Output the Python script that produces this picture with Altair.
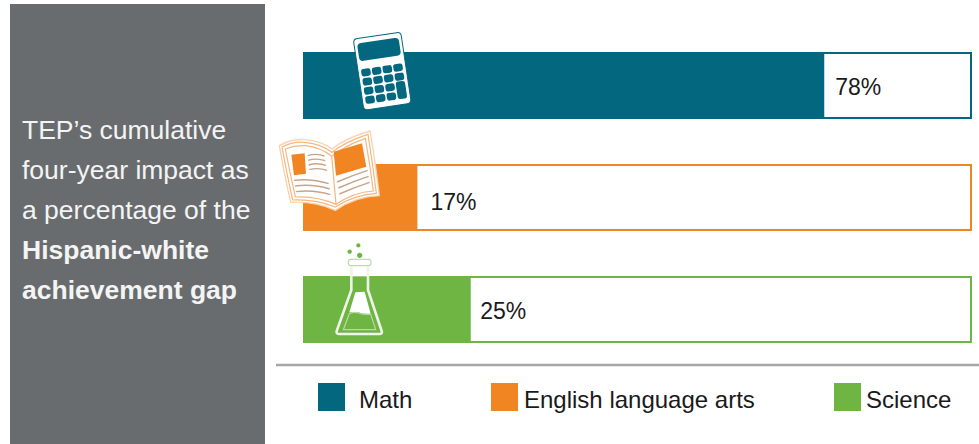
import altair as alt
import pandas as pd

subjects = ["Math", "English language arts", "Science"]
impact = [78, 17, 25]
colors = ["#02677f", "#f08522", "#6fb543"]
panel_plain = ["TEP’s cumulative", "four-year impact as", "a percentage of the"]
panel_bold = ["Hispanic-white", "achievement gap"]

FONT = "Liberation Sans"
PANEL = "#696c6e"

df = pd.DataFrame({"subject": subjects, "impact": impact, "full": [100] * 3})
df["label"] = df["impact"].astype(str) + "%"
one = pd.DataFrame({"k": [0]})

x_scale = alt.Scale(domain=[0, 100], range=[304, 971])
y_scale = alt.Scale(type="band", domain=subjects, range=[53, 342], paddingInner=47 / 112, paddingOuter=0)
c_scale = alt.Scale(domain=subjects, range=colors)
x_enc = alt.X("impact:Q", scale=x_scale, axis=None)
y_enc = alt.Y("subject:N", scale=y_scale, axis=None, sort=subjects)


def glyph(path, x, y, size=4 / 9, angle=0, fill="transparent", stroke="transparent", sw=0, opacity=1):
    """A custom SVG symbol; with size 4 one path unit is one pixel, with 4/9 a third of one."""
    return (
        alt.Chart(one)
        .mark_point(shape=path, size=size, angle=angle, filled=True, fill=fill, stroke=stroke,
                    strokeWidth=sw, opacity=opacity)
        .encode(x=alt.value(x), y=alt.value(y))
    )


def round_rect(x0, y0, x1, y1, r):
    return (f"M{x0 + r} {y0}L{x1 - r} {y0}Q{x1} {y0} {x1} {y0 + r}L{x1} {y1 - r}Q{x1} {y1} {x1 - r} {y1}"
            f"L{x0 + r} {y1}Q{x0} {y1} {x0} {y1 - r}L{x0} {y0 + r}Q{x0} {y0} {x0 + r} {y0}Z")


def circle(cx, cy, r):
    return f"M{cx - r} {cy}A{r} {r} 0 1 0 {cx + r} {cy}A{r} {r} 0 1 0 {cx - r} {cy}Z"


# Grey side panel and its caption
panel = (
    alt.Chart(one)
    .mark_rect(color=PANEL)
    .encode(x=alt.value(10), x2=alt.value(265), y=alt.value(4), y2=alt.value(444))
)
caption = []
for i, line in enumerate(panel_plain + panel_bold):
    caption.append(
        alt.Chart(pd.DataFrame({"t": [line]}))
        .mark_text(font=FONT, fontSize=26.5, color="#f4f4f4", align="left", baseline="alphabetic",
                   fontWeight="bold" if line in panel_bold else "normal")
        .encode(x=alt.value(22), y=alt.value(139 + 40 * i), text="t:N")
    )

# Outlined tracks with the filled share on top
tracks = (
    alt.Chart(df)
    .mark_bar(fill="white", strokeWidth=2)
    .encode(x=alt.X("full:Q", scale=x_scale, axis=None), y=y_enc,
            stroke=alt.Stroke("subject:N", scale=c_scale, legend=None))
)
fills = (
    alt.Chart(df)
    .mark_bar()
    .encode(x=x_enc, y=y_enc, color=alt.Color("subject:N", scale=c_scale, legend=None))
)

# Value labels sit just past the end of each filled share
label_nudge = {"Math": (11, 2.5), "English language arts": (13, 5.5), "Science": (9.5, 2.5)}
value_labels = [
    alt.Chart(df[df.subject == s])
    .mark_text(font=FONT, fontSize=23, color="#1a1a1a", align="left", baseline="middle", dx=dx, dy=dy)
    .encode(x=x_enc, y=y_enc, text="label:N")
    for s, (dx, dy) in label_nudge.items()
]

# Calculator, drawn upright around its centre and tilted
TEAL = colors[0]
calc = [round_rect(-24, -36, 24, 36, 4)]
calc_keys = [round_rect(-21, -31, 21, -13, 4)]
key_x = [-21, -10.2, 0.6, 11.4]
key_y = [-5, 4.2, 13.4, 22.6]
for row, yy in enumerate(key_y):
    for col, xx in enumerate(key_x):
        if col == 3 and row >= 2:
            continue
        calc_keys.append(round_rect(xx, yy, xx + 9.4, yy + 7.6, 2.4))
calc_keys.append(round_rect(11.4, 12.6, 20.8, 30.2, 2.6))
calculator = [
    glyph(calc[0], 382.3, 71.2, size=4, angle=351.5, fill="white", stroke=TEAL, sw=1),
    glyph("".join(calc_keys), 382.3, 71.2, size=4, angle=351.5, fill=TEAL),
]

# Open book, in thirds of a pixel from the corner of its box
ORANGE = colors[1]
BX, BY = 270, 125
book_outer = ("M28 62Q65 40 104 44Q160 50 186 72Q225 40 300 18Q316 110 328 212"
              "Q255 215 196 256Q135 228 62 232Q42 145 28 62Z")
book_mid = ("M36 66Q70 48 104 52Q155 57 186 82Q225 50 294 28Q308 115 319 205"
            "Q250 210 196 246Q135 222 68 225Q50 145 36 66Z")
book_inner = ("M46 72Q75 60 106 62Q150 66 185 94L198 238Q138 212 76 216Q60 145 46 72Z"
              "M185 94Q225 62 286 40Q300 120 310 198Q250 202 198 238")
book_blocks = ("M64 89L104 85L108 146L72 151Z"
               "M191 80L276 55L289 125L198 152Z")
book_lines = ("M113 92Q140 84 163 93M114 106Q140 98 166 107M116 120Q142 112 168 121M118 134Q145 127 171 136"
              "M72 166Q125 160 176 176M75 183Q128 176 179 192M78 200Q130 193 181 209"
              "M201 171Q250 150 293 136M205 189Q252 168 296 154M208 207Q255 186 299 172")
book = [
    glyph(book_outer, BX, BY, fill="white", stroke="#f8d3ae", sw=1.4),
    glyph(book_mid, BX, BY, stroke="#f5b77f", sw=1.2),
    glyph(book_inner, BX, BY, stroke="#f5b77f", sw=1.2),
    glyph(book_blocks, BX, BY, fill=ORANGE),
    glyph(book_lines, BX, BY, stroke="#c9a488", sw=1.4),
]

# Flask with its bubbles
GREEN = colors[2]
FX, FY = 270, 235
flask_body = "M244 92L244 165L200 288Q198 297 208 297L328 297Q338 297 335 288L294 165L294 92"
flask_cap = round_rect(235, 73, 303, 92, 7)
flask_neck_clear = "M246 92L292 92L292 124L246 124Z"
flask_foam = "M256 172L284 170L302 236Q280 238 265 232Q250 230 238 232Z"
flask_liquid = "M238 236Q252 230 266 234Q282 240 302 238L317 284L220 284Z"
bubbles = circle(265, 31, 6.5) + circle(239, 50, 6.5) + circle(269, 61, 8)
flask = [
    glyph(bubbles, FX, FY, fill=GREEN),
    glyph(flask_neck_clear, FX, FY, fill="white"),
    glyph(flask_foam, FX, FY, fill="white"),
    glyph(flask_liquid, FX, FY, stroke="#bcd7a8", sw=1.2),
    glyph(flask_body, FX, FY, stroke="#eef5e8", sw=2.6),
    glyph(flask_cap, FX, FY, fill="white", stroke="#c3d9b2", sw=1.2),
]

# Divider and key
divider = (
    alt.Chart(one)
    .mark_rule(color="#a7a7a7", strokeWidth=2.5)
    .encode(x=alt.value(276), x2=alt.value(979), y=alt.value(365))
)
swatch_left = [318, 491, 834]
label_left = [359, 524, 866]
key_items = []
for name, sx, lx in zip(subjects, swatch_left, label_left):
    row = df[df.subject == name]
    key_items.append(
        alt.Chart(row)
        .mark_rect()
        .encode(x=alt.value(sx), x2=alt.value(sx + 27), y=alt.value(383), y2=alt.value(411),
                color=alt.Color("subject:N", scale=c_scale, legend=None))
    )
    key_items.append(
        alt.Chart(row)
        .mark_text(font=FONT, fontSize=24, color="#1a1a1a", align="left", baseline="middle")
        .encode(x=alt.value(lx), y=alt.value(401), text="subject:N")
    )

chart = (
    alt.layer(panel, *caption, tracks, fills, *value_labels, *calculator, *book, *flask, divider, *key_items)
    .properties(width=979, height=444, padding=0, autosize=alt.AutoSizeParams(type="none"), background="white")
    .configure_view(stroke=None)
)

chart.save("out.html", embed_options={"renderer": "svg", "actions": False})
